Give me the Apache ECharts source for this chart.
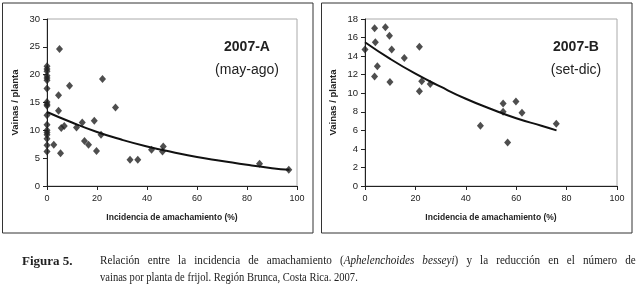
<!DOCTYPE html>
<html>
<head>
<meta charset="utf-8">
<script src="https://cdn.jsdelivr.net/npm/echarts@6/dist/echarts.min.js"></script>
<style>
  html, body { margin: 0; padding: 0; background: #fff; }
  #wrap { position: relative; width: 639px; height: 291px; }
  #chart { position: absolute; left: 0; top: 0; width: 639px; height: 291px; }
  .cap { position: absolute; font-family: "Liberation Serif", "Times New Roman", serif; font-size: 12px; color: #222; white-space: nowrap; }
  #figLabel { left: 22px; top: 253px; font-weight: bold; font-size: 13px; }
  #line1 { left: 100px; top: 253px; width: 576px; white-space: normal; text-align: justify; text-align-last: justify; transform: scaleX(0.93); transform-origin: 0 0; }
  #line2 { left: 100px; top: 270px; transform: scaleX(0.88); transform-origin: 0 0; }
</style>
</head>
<body>
<div id="wrap">
  <div id="chart"></div>
  <div class="cap" id="figLabel">Figura 5.</div>
  <div class="cap" id="line1">Relación entre la incidencia de amachamiento (<i>Aphelenchoides besseyi</i>) y la reducción en el número de</div>
  <div class="cap" id="line2">vainas por planta de frijol. Región Brunca, Costa Rica. 2007.</div>
</div>
<script>
// 2007-A (may-ago): incidencia (%) vs vainas / planta
const incidenciaA = [0, 0, 0, 0, 0, 0, 0, 0, 0, 0, 0, 0, 0, 0, 0, 0, 0, 0,
  5.0, 4.6, 4.6, 9.0, 22.2, 27.4, 2.7, 5.4, 5.7, 6.9, 11.8, 14.1, 18.9, 15.0, 16.6, 19.8, 21.6,
  33.2, 36.3, 41.8, 46.5, 46.2, 85.0, 96.7];
const vainasA = [21.5, 21.0, 20.6, 19.8, 19.4, 19.0, 17.5, 15.1, 14.7, 14.4, 12.7, 11.0, 10.0, 9.6, 9.2, 8.5, 7.3, 6.2,
  24.6, 16.3, 13.5, 18.0, 19.2, 14.1, 7.4, 5.9, 10.4, 10.8, 10.5, 11.4, 11.7, 8.1, 7.4, 6.3, 9.2,
  4.7, 4.7, 6.5, 7.1, 6.2, 4.0, 2.9];
const tendenciaXA = [0, 10, 20, 30, 40, 50, 60, 70, 80, 90, 97];
const tendenciaYA = [13.3, 11.4, 9.7, 8.3, 7.1, 6.1, 5.2, 4.5, 3.8, 3.2, 2.9];

// 2007-B (set-dic)
const incidenciaB = [0, 3.8, 4.1, 3.8, 4.9, 8.1, 9.7, 10.6, 9.9, 15.6, 21.6, 21.6, 22.5, 25.9,
  45.8, 54.8, 54.8, 56.6, 59.9, 62.3, 75.9];
const vainasB = [14.7, 17.0, 15.5, 11.8, 12.9, 17.1, 16.2, 14.7, 11.2, 13.8, 15.0, 10.2, 11.3, 11.0,
  6.5, 8.9, 8.0, 4.7, 9.1, 7.9, 6.7];
const tendenciaXB = [0, 10, 20, 30, 40, 50, 60, 70, 76];
const tendenciaYB = [15.5, 13.7, 12.1, 10.7, 9.4, 8.3, 7.3, 6.5, 6.0];

const xTitle = 'Incidencia de amachamiento (%)';
const yTitle = 'Vainas / planta';

const pairs = (xs, ys) => xs.map((x, i) => [x, ys[i]]);

const chart = echarts.init(document.getElementById('chart'), null, {renderer: 'canvas'});

const sans = 'Liberation Sans, Arial, sans-serif';

const makeX = gridIndex => ({
  type: 'value', gridIndex, min: 0, max: 100, interval: 20,
  name: xTitle, nameLocation: 'middle', nameGap: 27,
  nameTextStyle: {color: '#222', fontFamily: sans, fontSize: 8.5, fontWeight: 'bold'},
  axisLine: {show: true, lineStyle: {color: '#222', width: 1}},
  axisTick: {show: true, length: 4, lineStyle: {color: '#222'}},
  axisLabel: {color: '#222', fontFamily: sans, fontSize: 9, margin: 8},
  splitLine: {show: false}
});

const makeY = (gridIndex, max, interval) => ({
  type: 'value', gridIndex, min: 0, max, interval,
  name: yTitle, nameLocation: 'middle', nameGap: 27,
  nameTextStyle: {color: '#222', fontFamily: sans, fontSize: 9.5, fontWeight: 'bold'},
  axisLine: {show: true, lineStyle: {color: '#222', width: 1}},
  axisTick: {show: true, length: 4, lineStyle: {color: '#222'}},
  axisLabel: {color: '#222', fontFamily: sans, fontSize: 9.5, margin: 7},
  splitLine: {show: false}
});

const pointStyle = {
  type: 'scatter', symbol: 'diamond', symbolSize: [7, 8],
  itemStyle: {color: '#222'}, z: 2
};
const trendStyle = {
  type: 'line', smooth: true, showSymbol: false, symbol: 'none',
  lineStyle: {color: '#111', width: 2}, z: 3
};

const label = (x, y, text, size, weight) => ({
  type: 'text', x, y,
  style: {
    text, fill: '#222', align: 'center', verticalAlign: 'middle',
    font: `${weight} ${size}px "Liberation Sans", Arial, sans-serif`
  }
});

option = {
  animation: false,
  backgroundColor: '#fff',
  grid: [
    {left: 47, top: 19, width: 250, height: 167, show: true, borderColor: '#aaa', borderWidth: 1, backgroundColor: 'transparent'},
    {left: 365, top: 19, width: 252, height: 167, show: true, borderColor: '#aaa', borderWidth: 1, backgroundColor: 'transparent'}
  ],
  xAxis: [makeX(0), makeX(1)],
  yAxis: [makeY(0, 30, 5), makeY(1, 18, 2)],
  series: [
    {...pointStyle, xAxisIndex: 0, yAxisIndex: 0, data: pairs(incidenciaA, vainasA)},
    {...trendStyle, xAxisIndex: 0, yAxisIndex: 0, data: pairs(tendenciaXA, tendenciaYA)},
    {...pointStyle, xAxisIndex: 1, yAxisIndex: 1, data: pairs(incidenciaB, vainasB)},
    {...trendStyle, xAxisIndex: 1, yAxisIndex: 1, data: pairs(tendenciaXB, tendenciaYB)}
  ],
  graphic: [
    {type: 'rect', shape: {x: 2.5, y: 3, width: 310.5, height: 230}, style: {fill: 'none', stroke: '#333', lineWidth: 1}, silent: true},
    {type: 'rect', shape: {x: 321.5, y: 3, width: 310.5, height: 230}, style: {fill: 'none', stroke: '#333', lineWidth: 1}, silent: true},
    label(247, 47, '2007-A', 14, 'bold'),
    label(247, 70, '(may-ago)', 14, 'normal'),
    label(576, 47, '2007-B', 14, 'bold'),
    label(576, 70, '(set-dic)', 14, 'normal')
  ]
};

chart.setOption(option);
</script>
</body>
</html>
